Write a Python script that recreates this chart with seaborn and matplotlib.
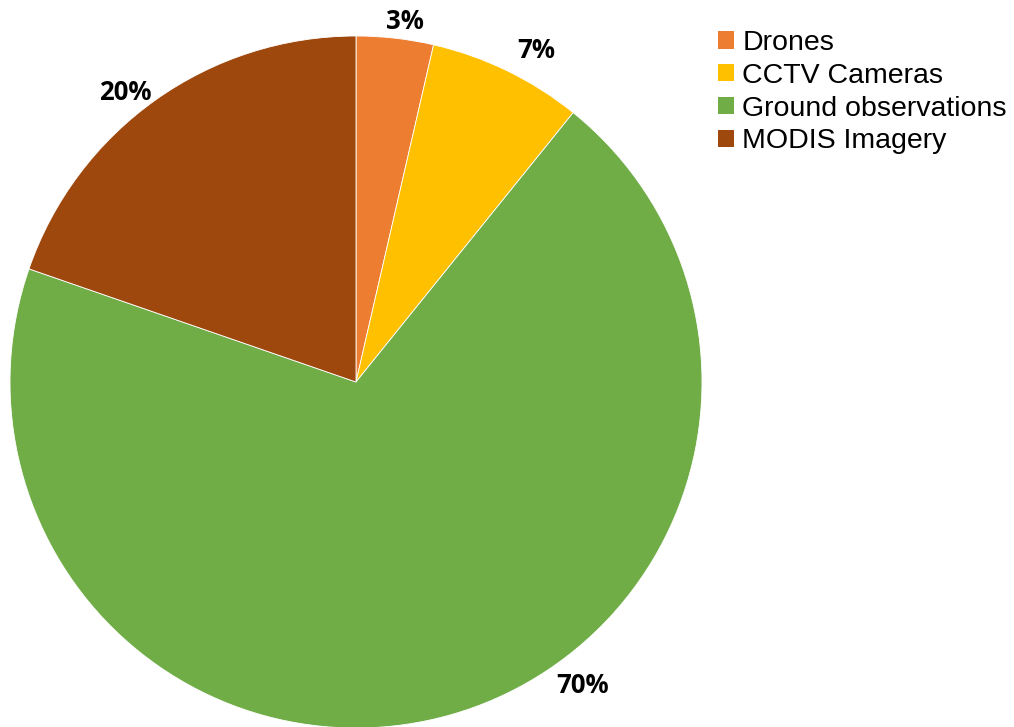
import numpy as np
import matplotlib
matplotlib.use("Agg")
import matplotlib.pyplot as plt
import seaborn as sns

categories = ["Drones", "CCTV Cameras", "Ground observations", "MODIS Imagery"]
values = [3.6, 7.2, 69.5, 19.7]
pct_labels = ["3%", "7%", "70%", "20%"]
colors = ["#ED7D31", "#FFC000", "#70AD47", "#9E480E"]

sns.set_theme(style="white")
plt.rcParams['font.family'] = ['Liberation Sans', 'DejaVu Sans']
plt.rcParams['text.color'] = 'black'

fig = plt.figure(figsize=(10.14, 7.27), dpi=100)
W, H = 1014, 727
cx, cy, r = 356, 727 - 382, 346
ax = fig.add_axes([(cx - r) / W, (cy - r) / H, 2 * r / W, 2 * r / H])

wedges, texts = ax.pie(values, colors=sns.color_palette(colors), startangle=90,
                       counterclock=False, labels=pct_labels, labeldistance=1.08,
                       wedgeprops=dict(edgecolor="white", linewidth=0.6))
ax.set_xlim(-1, 1)
ax.set_ylim(-1, 1)
ax.set_aspect("equal")

# label placement (style): angle in degrees (None = slice middle) and radius factor
label_angle = [82.3, 61.5, -53.2, 128.5]
label_dist = [1.05, 1.09, 1.095, 1.07]
for w, t, a, d in zip(wedges, texts, label_angle, label_dist):
    ang = np.deg2rad((w.theta1 + w.theta2) / 2 if a is None else a)
    t.set_position((d * np.cos(ang), d * np.sin(ang)))
    t.set_ha("center")
    t.set_va("center")
    t.set_fontfamily(["Open Sans", "DejaVu Sans"])
    t.set_fontweight("bold")
    t.set_fontsize(18.5)
    t.set_color("black")

leg = fig.legend(wedges, categories, loc="upper left",
                 bbox_to_anchor=(718 / W, 1 - 30 / H), frameon=False,
                 fontsize=20.5, handlelength=0.55, handleheight=0.55,
                 handletextpad=0.3, labelspacing=0.24, borderaxespad=0,
                 borderpad=0)
for h in leg.legend_handles:
    h.set_edgecolor("none")
for t in leg.get_texts():
    t.set_color("black")

fig.savefig("out.png", dpi=100)
